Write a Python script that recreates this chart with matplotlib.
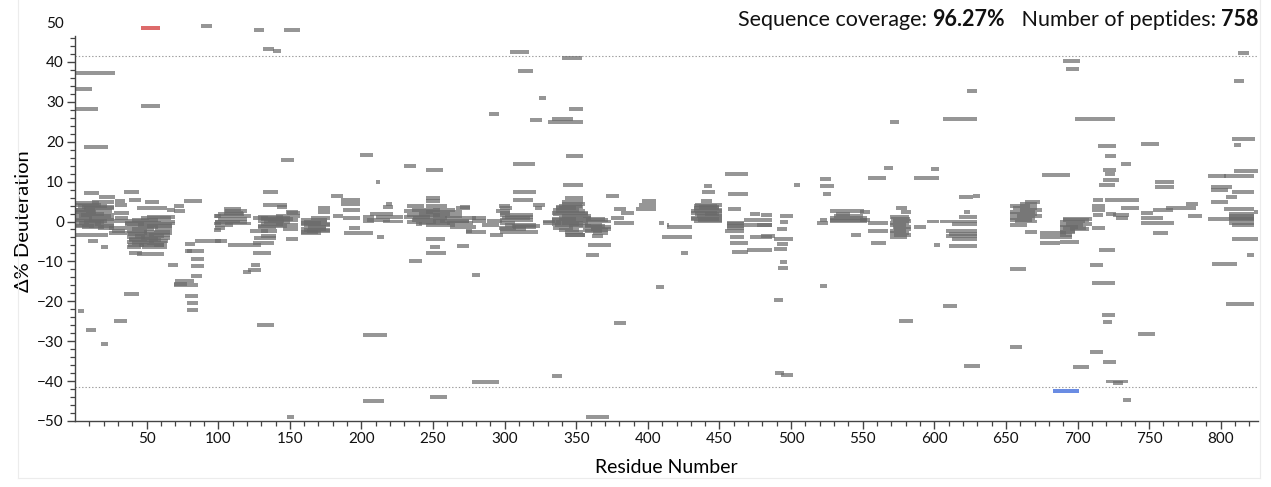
import matplotlib
matplotlib.use("Agg")
import matplotlib.pyplot as plt
from matplotlib.ticker import MultipleLocator, FixedLocator
from matplotlib.lines import Line2D

plt.rcParams['font.family'] = ['Lato', 'DejaVu Sans']

# Peptide coverage: first residue, last residue, difference in deuteration (%)
pep_start = [
    1, 1, 1, 46, 6, 88, 6, 17, 34, 38, 49, 28, 28, 76, 43, 64, 69, 69,
    1, 2, 5, 1, 8, 1, 4, 1, 10, 1, 3, 14, 1, 5, 16,
    27, 28, 27, 24, 1, 9, 18, 26, 24,
    46, 50, 36, 52, 35, 44, 36, 56, 36, 48, 37, 52, 36, 46, 38, 36, 50, 37, 45,
    36, 47, 38, 43, 65, 34, 27, 2, 8, 18, 77, 77, 78, 81, 81, 81, 70, 69, 69,
    77, 78, 78, 84, 97, 97, 97,
    104, 104, 98, 100, 98, 105, 98, 98, 98, 107, 125, 124, 124, 123, 117, 121,
    127, 131, 131, 141, 144, 148, 124, 130, 128, 135, 130, 140, 128, 145, 122,
    147, 147, 130, 130, 148, 131, 138, 125, 146,
    158, 165, 158, 160, 158, 162, 158, 170, 170, 179, 186, 186, 194, 187, 187,
    180, 191, 188, 199, 201, 201, 210, 211, 201, 201, 206, 210, 204, 215, 215,
    217, 230, 232, 245, 245, 245, 245, 230, 240, 230, 250, 235, 258, 232, 255,
    245, 262, 233, 245, 248, 245, 248, 238, 266, 267, 273, 269,
    277, 277, 273, 277, 277, 284, 290, 288, 294, 296, 296, 297, 297, 297, 305,
    297, 297, 297, 306, 320, 321, 327, 327, 306, 306, 304, 309, 324, 289, 318,
    330, 333, 345, 306, 343, 340, 341, 342, 340, 338, 336, 334, 333, 340, 333,
    336, 333, 345, 334, 343, 333, 342, 355, 358, 356, 360, 355, 362, 361, 358,
    357, 357, 371, 376, 381, 374, 376, 376, 396, 394, 392, 408, 413, 410, 406,
    413, 423,
    439, 438, 437, 433, 432, 430, 434, 430, 432, 436, 440, 454, 456, 456, 455,
    455, 454, 457, 457, 459, 467, 467, 471, 479, 476, 471, 479, 469, 492, 492,
    490, 488, 490, 488, 492, 491, 488, 489, 493, 502, 520, 520, 522, 527, 531,
    527, 527, 518, 520, 542, 520, 554, 565, 569, 548, 548, 554, 554, 556, 569,
    571, 569, 572, 569, 573, 577, 569, 575, 586, 598, 595, 586, 600, 606, 606,
    623, 617, 627, 621, 617, 604, 612, 608, 608, 610, 621, 653, 653, 663, 653,
    660, 653, 653, 656, 653, 663, 674, 674, 674, 675, 690, 692, 698, 690, 688,
    692, 688, 695, 688, 688, 688, 688, 697, 714, 719, 730, 718, 719, 718, 715,
    711, 710, 710, 711, 719, 730, 720, 725, 727, 710, 715, 709, 710, 717, 718,
    709, 718, 720, 725, 732, 744, 742, 754, 754, 744, 753, 744, 753, 744, 762,
    776, 777, 791, 793, 793, 793, 804, 791, 802, 806, 806, 806, 808, 809, 802,
    808, 818, 794, 804, 808, 809, 809, 812, 823,
]
pep_end = [
    28, 12, 16, 59, 23, 96, 17, 28, 45, 46, 59, 35, 36, 89, 64, 70, 76, 77,
    17, 22, 27, 14, 26, 20, 27, 12, 27, 22, 18, 27, 10, 20, 27,
    38, 37, 36, 36, 23, 16, 23, 35, 35,
    67, 70, 52, 70, 48, 68, 58, 68, 50, 66, 55, 66, 49, 66, 60, 50, 64, 48, 62,
    46, 64, 47, 62, 72, 45, 36, 6, 15, 23, 84, 82, 90, 90, 90, 89, 83, 86, 78,
    86, 86, 86, 102, 102, 102, 102,
    116, 117, 123, 120, 115, 123, 110, 105, 106, 130, 140, 139, 137, 129, 123, 130,
    139, 142, 148, 148, 153, 157, 135, 150, 146, 156, 145, 156, 140, 156, 135,
    156, 156, 141, 140, 153, 139, 144, 132, 157,
    176, 178, 172, 178, 175, 178, 172, 178, 178, 187, 199, 194, 199, 199, 199,
    187, 199, 208, 208, 209, 209, 213, 216, 218, 216, 222, 229, 220, 229, 222,
    221, 238, 244, 257, 255, 255, 260, 250, 262, 248, 270, 258, 280, 252, 275,
    265, 280, 242, 258, 255, 259, 260, 242, 276, 275, 277, 276,
    287, 287, 287, 283, 296, 296, 299, 298, 304, 304, 308, 320, 320, 307, 325,
    323, 305, 304, 322, 328, 326, 335, 339, 322, 320, 317, 320, 329, 296, 326,
    355, 348, 355, 321, 355, 354, 355, 355, 355, 354, 355, 352, 358, 360, 350,
    358, 352, 360, 348, 356, 340, 356, 370, 374, 368, 374, 372, 372, 369, 374,
    366, 373, 380, 385, 390, 383, 390, 385, 406, 406, 406, 411, 415, 431, 411,
    431, 428,
    445, 447, 445, 452, 452, 448, 452, 450, 452, 450, 452, 470, 470, 465, 467,
    467, 467, 467, 470, 470, 487, 487, 478, 487, 487, 487, 489, 487, 501, 498,
    497, 501, 498, 497, 497, 498, 494, 495, 501, 506, 528, 530, 528, 551, 541,
    553, 553, 526, 525, 549, 525, 566, 571, 575, 555, 555, 568, 568, 566, 582,
    584, 580, 584, 582, 581, 584, 581, 585, 603, 603, 603, 594, 604, 616, 630,
    630, 627, 632, 625, 630, 630, 630, 630, 630, 630, 632, 664, 661, 674, 667,
    675, 672, 670, 672, 665, 672, 692, 688, 688, 695, 702, 701, 726, 710, 705,
    710, 700, 708, 698, 696, 696, 701, 708, 727, 727, 737, 727, 726, 729, 726,
    718, 719, 719, 718, 743, 743, 727, 736, 735, 719, 726, 718, 726, 726, 724,
    718, 727, 735, 732, 737, 757, 754, 767, 767, 753, 767, 767, 763, 760, 783,
    784, 787, 804, 808, 805, 805, 811, 823, 823, 823, 823, 823, 823, 827, 823,
    827, 823, 811, 823, 824, 814, 816, 820, 827,
]
pep_delta = [
    37.3, 33.3, 28.2, 29.0, 18.6, 49.1, 7.2, 6.2, 7.3, 5.5, 5.0, 5.1, 4.2, 5.1, 3.4, 3.0, 3.9, 2.7,
    4.6, 4.0, 3.6, 3.0, 2.7, 2.0, 1.6, 1.0, 0.6, 0.2, -0.3, -0.6, -0.9, -1.3, -1.6,
    2.1, 1.0, 0.1, -1.7, -3.3, -4.8, -6.3, -2.5, -2.8,
    0.8, 1.2, 0.2, 0.0, -0.6, -0.9, -1.5, -1.8, -2.3, -2.6, -3.1, -3.4, -3.9, -4.2, -4.6, -5.1, -5.3, -5.8, -6.0,
    -6.4, -6.3, -8.0, -8.2, -10.9, -18.2, -24.9, -22.4, -27.3, -30.7, -5.7, -7.3, -7.5, -9.4, -11.1, -13.6, -15.0, -16.0, -15.6,
    -18.7, -20.5, -22.1, -4.8, 1.3, -0.5, -2.1,
    3.1, 2.1, 1.3, 0.6, 0.0, -0.5, -1.0, -1.7, -4.8, -5.8, -4.2, -5.4, -7.9, -10.9, -12.7, -12.2,
    -25.9, 7.3, 4.2, 3.6, 15.5, 2.1, 0.8, 1.0, 0.2, 0.4, -0.6, -1.0, -1.4, -1.8, -2.5,
    2.3, -4.4, -2.3, -3.6, -48.9, 43.3, 42.8, 48.0, 48.0,
    0.4, 0.8, -0.3, -1.0, -1.8, -2.4, -3.0, 3.5, 2.3, 6.4, 5.4, 4.3, 4.3, 2.9, 1.0,
    1.3, -1.7, -2.9, 16.6, 1.2, 0.2, 9.8, -4.0, -28.5, -45.0, 2.0, 1.2, 0.5, 0.0, 3.7,
    4.4, 14.0, 3.8, 13.0, 5.9, 5.1, 4.0, 2.6, 2.0, 1.2, 1.5, 0.5, 0.8, -0.2, 0.0,
    -0.9, -1.3, -9.8, -4.5, -6.3, -8.0, -43.9, -0.6, 3.4, -6.1, -2.3, 3.6,
    1.0, 0.2, -2.6, -13.3, -40.3, -1.0, -3.4, 0.2, 2.7, 3.8, -1.7, 1.7, 0.4, -0.4, -1.2,
    -2.7, 3.4, 2.1, -1.3, 4.2, 3.3, 0.0, -0.4, 7.5, 5.5, 42.6, 37.8, 30.9, 27.0, 25.5,
    25.0, 25.7, 28.3, 14.5, 16.3, 40.9, 9.1, 5.9, 5.0, 4.0, 3.6, 3.0, 2.2, 1.4, 0.7,
    0.0, -0.6, -1.2, -1.7, -3.4, -38.7, -3.3, 0.6, 0.0, -0.8, -1.5, -2.2, -2.8, -3.6, -6.0,
    -8.4, -48.9, 6.5, 3.2, 2.1, 0.9, -0.4, -25.5, 5.2, 4.2, 3.2, -0.4, -1.0, -4.0, -16.3,
    -1.5, -8.0,
    9.0, 7.5, 5.2, 4.2, 3.0, 2.2, 1.4, 0.6, 0.0, 3.6, 1.8, 12.0, 6.9, 3.2, -0.3,
    -1.2, -2.3, -3.8, -5.3, -7.7, 0.4, -0.8, 1.9, 1.7, -0.9, -4.0, -3.6, -7.1, 1.5, -0.2,
    -1.8, -4.3, -5.7, -7.0, -10.2, -11.7, -19.6, -38.0, -38.5, 9.1, 10.6, 9.0, 7.0, 2.6, 2.0,
    1.0, 0.1, -0.4, 0.5, -3.3, -16.2, 10.8, 13.5, 24.9, 2.4, 0.5, -0.4, -2.4, -5.5, 1.2,
    0.2, -0.8, -1.8, -2.8, 3.4, 2.5, -4.0, -25.0, 11.0, 13.2, 0.0, -1.3, -5.8, -21.1, 25.6,
    32.6, 6.1, 6.4, 2.5, 1.2, 0.0, -0.6, -2.5, -3.7, -6.1, -36.3, -12.0, -31.5, 5.0, 3.9,
    3.0, 2.0, 0.8, 0.0, -0.8, -2.7, -2.8, -3.9, -5.3, 11.7, 40.3, 38.3, 25.6, 0.7, 0.0,
    -0.6, -1.4, -2.0, -2.6, -3.3, -3.8, -5.2, -36.4, 19.0, 16.3, 14.5, 13.0, 12.0, 10.3, 9.2,
    5.3, 4.0, 2.8, 1.6, 5.3, 3.4, 2.0, 1.6, 0.9, -1.6, -7.2, -10.9, -15.5, -23.4, -25.2,
    -32.8, -35.2, -40.1, -40.4, -44.8, 19.4, -28.1, 9.9, 8.7, 2.2, 2.9, -0.3, -2.8, 1.0, 3.5,
    4.5, 1.5, 11.5, 8.6, 7.9, 4.8, 6.2, 0.6, 3.1, 2.0, 1.0, -0.5, 7.4, 12.6, 11.3,
    -4.4, -8.3, -10.6, -20.8, 20.7, 19.1, 35.1, 42.2, 2.3,
]

# Overlapping peptides inside the crowded low-difference clusters
cluster_start = [
    1, 6, 1, 3, 1, 6, 1, 10, 1, 12,
    40, 35, 50, 40, 35, 55, 42, 38, 52, 40, 55, 60,
    100, 98, 105,
    130, 132, 128, 140, 128,
    160, 158, 163, 160, 158,
    232, 245, 236, 250, 240, 260, 235, 250,
    300, 298, 300, 297,
    336, 334, 338, 333, 340, 335, 338, 342, 336, 340,
    357, 356, 360, 356,
    432, 430, 433, 430, 435, 432,
    570, 569, 571, 569, 572,
    655, 653, 658, 653, 660,
    690, 688, 690, 688,
    610, 612,
    806, 806, 808,
    455, 455, 527, 530,
]
cluster_end = [
    18, 27, 15, 25, 27, 20, 13, 27, 8, 27,
    58, 60, 68, 55, 50, 68, 62, 58, 65, 55, 62, 70,
    118, 120, 120,
    152, 150, 148, 157, 145,
    176, 178, 175, 178, 170,
    255, 270, 260, 275, 262, 278, 255, 265,
    320, 318, 322, 315,
    356, 358, 360, 355, 358, 355, 352, 355, 350, 356,
    372, 370, 374, 368,
    450, 452, 450, 452, 452, 448,
    583, 582, 584, 580, 584,
    672, 670, 675, 668, 672,
    708, 704, 706, 698,
    630, 630,
    823, 823, 823,
    467, 467, 553, 550,
]
cluster_delta = [
    4.2, 3.3, 2.4, 1.3, 0.4, -0.1, -1.1, -1.2, 2.8, 5.0,
    0.5, -0.3, -1.2, -2.0, -2.8, -2.9, -3.6, -4.4, -4.9, -5.5, -5.8, -0.5,
    1.8, -0.2, 2.6,
    0.6, -0.2, -1.1, 1.5, 1.2,
    0.0, -0.7, -1.4, -2.1, -2.7,
    1.6, 2.3, 1.0, 0.2, -0.5, -0.4, 3.0, 2.8,
    1.2, 0.8, -0.8, -2.0,
    2.6, 1.8, 1.0, 0.3, -0.3, -1.0, -2.1, -2.6, 3.4, 4.4,
    0.3, -1.2, -1.9, -2.5,
    3.4, 2.6, 1.8, 1.0, 0.3, 3.9,
    0.7, -0.3, -1.3, -2.3, -3.3,
    3.5, 2.5, 1.4, 0.4, 4.4,
    0.3, -1.0, -1.7, -2.3,
    -3.1, -4.3,
    1.5, 0.3, -1.0,
    -0.7, -1.7, 0.5, 1.5,
]

# Peptides flagged as significant
sig_start = [46, 683]
sig_end = [59, 701]
sig_delta = [48.5, -42.6]
sig_colors = ['#dd6b6b', '#6a8ce3']

significance_limit = 41.6
coverage_text = "96.27%"
peptide_count_text = "758"

W, H = 1271, 487
fig = plt.figure(figsize=(W / 100, H / 100), dpi=100)
ax = fig.add_axes([75 / W, 1 - 421 / H, (1258 - 75) / W, (421 - 22) / H])

all_start = pep_start + cluster_start
all_end = pep_end + cluster_end
all_delta = pep_delta + cluster_delta

bar_h = 1.0
widths = [e - s for s, e in zip(all_start, all_end)]
ax.barh(all_delta, widths, left=all_start, height=bar_h,
        color='#6a6a6a', alpha=0.7, linewidth=0)
ax.barh(sig_delta, [e - s for s, e in zip(sig_start, sig_end)], left=sig_start,
        height=bar_h, color=sig_colors, linewidth=0, zorder=3)

for lim in (significance_limit, -significance_limit):
    ax.axhline(lim, color='#9a9a9a', lw=0.8, ls=(0, (1.2, 1.8)), zorder=0)

ax.set_xlim(0, 826)
ax.set_ylim(-50, 50)

ax.spines['top'].set_visible(False)
ax.spines['right'].set_visible(False)
ax.spines['left'].set_bounds(-50, 46.6)
for sp in ('left', 'bottom'):
    ax.spines[sp].set_color('#444444')
    ax.spines[sp].set_linewidth(1.0)

ax.xaxis.set_major_locator(FixedLocator(list(range(50, 801, 50))))
ax.xaxis.set_minor_locator(FixedLocator([v for v in range(10, 826, 10) if v % 50]))
ax.yaxis.set_major_locator(MultipleLocator(10))
ax.yaxis.set_minor_locator(FixedLocator([v for v in range(-48, 47, 2) if v % 10]))

ax.tick_params(axis='both', which='major', length=6, width=1.0, color='#444444',
               labelsize=11, labelcolor='#111111', pad=2)
ax.tick_params(axis='both', which='minor', length=3.5, width=0.9, color='#444444')
fig.canvas.draw()
for t in ax.yaxis.get_major_ticks():
    if abs(t.get_loc() - 50) < 1e-6:
        t.tick1line.set_visible(False)

ax.set_xlabel('Residue Number', fontsize=14, labelpad=9)
ax.set_ylabel('Δ% Deuteration', fontsize=14.5, labelpad=4)

# Header line, mixed regular and bold, laid out right to left
renderer = fig.canvas.get_renderer()
pieces = [
    ("Sequence coverage: ", 'normal'),
    (coverage_text, 'bold'),
    ("   Number of peptides: ", 'normal'),
    (peptide_count_text, 'bold'),
]
x_right = 1259 / W
y_head = 1 - 20 / H
for txt, weight in reversed(pieces):
    t = fig.text(x_right, y_head, txt, ha='right', va='center', fontsize=15.5,
                 fontweight=weight, color='#111111')
    bb = t.get_window_extent(renderer)
    x_right -= bb.width / W

# faint outer frame
frame_kw = dict(color='#ececec', lw=0.8, transform=fig.transFigure)
fig.add_artist(Line2D([18 / W, 1259.5 / W], [1 - 478 / H, 1 - 478 / H], **frame_kw))
fig.add_artist(Line2D([1259.5 / W, 1259.5 / W], [1 - 478 / H, 1.0], **frame_kw))
fig.add_artist(Line2D([18 / W, 18 / W], [1 - 478 / H, 1.0], **frame_kw))

fig.savefig('out.png', dpi=100)
